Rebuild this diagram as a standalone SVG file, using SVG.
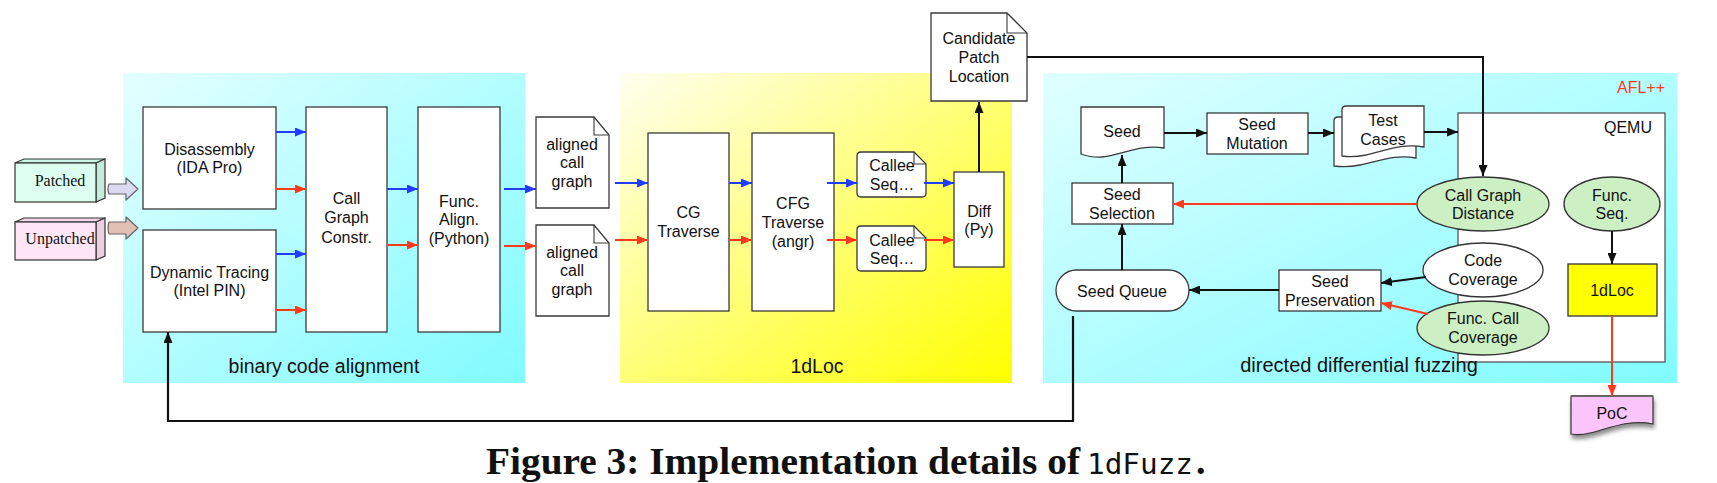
<svg xmlns="http://www.w3.org/2000/svg" width="1717" height="483" viewBox="0 0 1717 483">
<style>
.t{font-family:"Liberation Sans",Arial,sans-serif;font-size:16px;fill:#111;text-anchor:middle}
.lbl{font-size:19.5px}
.box{fill:#fff;stroke:#3a3a3a;stroke-width:1.3}
.ell{fill:#ccf0c4;stroke:#333;stroke-width:1.3}
.blue{stroke:#1f3cff;stroke-width:2;fill:none;marker-end:url(#ab)}
.red{stroke:#ff3a1c;stroke-width:2;fill:none;marker-end:url(#ar)}
.blk{stroke:#111;stroke-width:2;fill:none;marker-end:url(#ak)}
.serif{font-family:"Liberation Serif","Times New Roman",serif;font-size:16px;fill:#111;text-anchor:middle}
</style>
<defs>
<linearGradient id="gcyan1" x1="0" y1="0" x2="1" y2="1"><stop offset="0" stop-color="#e4ffff"/><stop offset="1" stop-color="#80fbff"/></linearGradient>
<linearGradient id="gcyan2" x1="0" y1="0" x2="1" y2="1"><stop offset="0" stop-color="#e0ffff"/><stop offset="1" stop-color="#80fbff"/></linearGradient>
<linearGradient id="gyel" x1="0" y1="0" x2="1" y2="1"><stop offset="0" stop-color="#fffff0"/><stop offset="1" stop-color="#ffff00"/></linearGradient>
<marker id="ab" markerUnits="userSpaceOnUse" markerWidth="11" markerHeight="9" refX="11" refY="4.5" orient="auto"><path d="M0,0 L11,4.5 L0,9 Z" fill="#1f3cff"/></marker>
<marker id="ar" markerUnits="userSpaceOnUse" markerWidth="11" markerHeight="9" refX="11" refY="4.5" orient="auto"><path d="M0,0 L11,4.5 L0,9 Z" fill="#ff3a1c"/></marker>
<marker id="ak" markerUnits="userSpaceOnUse" markerWidth="11" markerHeight="9" refX="11" refY="4.5" orient="auto"><path d="M0,0 L11,4.5 L0,9 Z" fill="#111"/></marker>
<filter id="sh" x="-20%" y="-20%" width="140%" height="160%"><feDropShadow dx="1" dy="4" stdDeviation="2" flood-color="#000" flood-opacity="0.45"/></filter>
</defs>

<!-- backgrounds -->
<g id="bg-bca">
<rect x="123" y="73" width="402" height="310" fill="url(#gcyan1)"/>
<text class="t lbl" x="324" y="373">binary code alignment</text>
</g>
<g id="bg-1dloc">
<rect x="620" y="73" width="392" height="310" fill="url(#gyel)"/>
<text class="t lbl" x="817" y="373">1dLoc</text>
</g>
<g id="bg-ddf">
<rect x="1043" y="73" width="634" height="310" fill="url(#gcyan2)"/>
<text class="t" x="1665" y="93" style="text-anchor:end;fill:#ff3a1c">AFL++</text>
</g>
<g id="qemu">
<rect x="1458" y="113" width="207" height="249" fill="#fff" stroke="#555" stroke-width="1.3"/>
<text class="t" x="1652" y="133" style="text-anchor:end">QEMU</text>
</g>

<!-- inputs -->
<g id="patched">
<polygon points="15,163 24,159 105,159 96,163" fill="#cdf5e6" stroke="#333" stroke-width="1.2"/>
<polygon points="96,163 105,159 105,198 96,202" fill="#c4ecdc" stroke="#333" stroke-width="1.2"/>
<rect x="15" y="163" width="81" height="39" fill="#dcfff0" stroke="#333" stroke-width="1.2"/>
<text class="serif" x="60" y="186">Patched</text>
</g>
<g id="unpatched">
<polygon points="15,222 24,218 105,218 96,222" fill="#f5d8ea" stroke="#333" stroke-width="1.2"/>
<polygon points="96,222 105,218 105,256 96,260" fill="#ecd0e2" stroke="#333" stroke-width="1.2"/>
<rect x="15" y="222" width="81" height="38" fill="#ffe6f6" stroke="#333" stroke-width="1.2"/>
<text class="serif" x="60" y="244">Unpatched</text>
</g>

<!-- binary code alignment nodes -->
<g id="disasm">
<rect class="box" x="143" y="107" width="133" height="102"/>
<text class="t" x="209.5" y="155">Disassembly</text>
<text class="t" x="209.5" y="173">(IDA Pro)</text>
</g>
<g id="dyntrace">
<rect class="box" x="143" y="230" width="133" height="102"/>
<text class="t" x="209.5" y="278">Dynamic Tracing</text>
<text class="t" x="209.5" y="296">(Intel PIN)</text>
</g>
<g id="cgc">
<rect class="box" x="306" y="107" width="81" height="225"/>
<text class="t" x="346.5" y="204">Call</text>
<text class="t" x="346.5" y="223">Graph</text>
<text class="t" x="346.5" y="243">Constr.</text>
</g>
<g id="funcalign">
<rect class="box" x="418" y="107" width="82" height="225"/>
<text class="t" x="459" y="207">Func.</text>
<text class="t" x="459" y="225">Align.</text>
<text class="t" x="459" y="244">(Python)</text>
</g>
<g id="acg1">
<path class="box" d="M536,117 H594 L609,135 V208 H536 Z"/>
<path d="M594,117 V135 H609" fill="none" stroke="#3a3a3a" stroke-width="1.1"/>
<text class="t" x="572" y="150">aligned</text>
<text class="t" x="572" y="168">call</text>
<text class="t" x="572" y="187">graph</text>
</g>
<g id="acg2">
<path class="box" d="M536,225 H594 L609,243 V316 H536 Z"/>
<path d="M594,225 V243 H609" fill="none" stroke="#3a3a3a" stroke-width="1.1"/>
<text class="t" x="572" y="258">aligned</text>
<text class="t" x="572" y="276">call</text>
<text class="t" x="572" y="295">graph</text>
</g>

<!-- 1dLoc nodes -->
<g id="cgtrav">
<rect class="box" x="648" y="133" width="81" height="178"/>
<text class="t" x="688.5" y="218">CG</text>
<text class="t" x="688.5" y="237">Traverse</text>
</g>
<g id="cfgtrav">
<rect class="box" x="752" y="133" width="82" height="178"/>
<text class="t" x="793" y="209">CFG</text>
<text class="t" x="793" y="228">Traverse</text>
<text class="t" x="793" y="247">(angr)</text>
</g>
<g id="callee1">
<path class="box" d="M861,152 H914 L926,164 V193 Q926,197 922,197 H861 Q857,197 857,193 V156 Q857,152 861,152 Z"/>
<path d="M914,152 V164 H926" fill="none" stroke="#3a3a3a" stroke-width="1.1"/>
<text class="t" x="892" y="171">Callee</text>
<text class="t" x="892" y="190">Seq…</text>
</g>
<g id="callee2">
<path class="box" d="M861,226 H914 L926,238 V267 Q926,271 922,271 H861 Q857,271 857,267 V230 Q857,226 861,226 Z"/>
<path d="M914,226 V238 H926" fill="none" stroke="#3a3a3a" stroke-width="1.1"/>
<text class="t" x="892" y="246">Callee</text>
<text class="t" x="892" y="264">Seq…</text>
</g>
<g id="diff">
<rect class="box" x="954" y="172" width="50" height="95"/>
<text class="t" x="979" y="217">Diff</text>
<text class="t" x="979" y="235">(Py)</text>
</g>
<g id="cpl">
<path class="box" d="M931,13 H1007 L1027,33 V101 H931 Z"/>
<path d="M1007,13 V33 H1027" fill="none" stroke="#3a3a3a" stroke-width="1.1"/>
<text class="t" x="979" y="44">Candidate</text>
<text class="t" x="979" y="63">Patch</text>
<text class="t" x="979" y="82">Location</text>
</g>

<!-- fuzzing nodes -->
<g id="seed">
<path class="box" d="M1081,107 H1164 V148 C1140,144 1125,154 1102,157 C1093,158 1087,156 1081,154 Z"/>
<text class="t" x="1122" y="137">Seed</text>
</g>
<g id="mutation">
<rect class="box" x="1207" y="113" width="101" height="41"/>
<text class="t" x="1257" y="130">Seed</text>
<text class="t" x="1257" y="149">Mutation</text>
</g>
<g id="testcases">
<path class="box" d="M1338,117 H1416 V158 C1395,154 1380,161 1360,165 C1350,167 1342,167 1334,166 V121 Q1334,117 1338,117 Z"/>
<path class="box" d="M1346,106 H1424 V147 C1402,143 1387,150 1366,155 C1356,157 1349,157 1342,156 V110 Q1342,106 1346,106 Z"/>
<text class="t" x="1383" y="126">Test</text>
<text class="t" x="1383" y="145">Cases</text>
</g>
<g id="selection">
<rect class="box" x="1072" y="183" width="101" height="41"/>
<text class="t" x="1122" y="200">Seed</text>
<text class="t" x="1122" y="219">Selection</text>
</g>
<g id="queue">
<rect class="box" x="1056" y="270" width="133" height="41" rx="20.5" ry="20.5"/>
<text class="t" x="1122" y="297">Seed Queue</text>
</g>
<g id="preservation">
<rect class="box" x="1279" y="270" width="102" height="41"/>
<text class="t" x="1330" y="287">Seed</text>
<text class="t" x="1330" y="306">Preservation</text>
</g>
<g id="cgdist">
<ellipse class="ell" cx="1483" cy="204" rx="66" ry="27"/>
<text class="t" x="1483" y="201">Call Graph</text>
<text class="t" x="1483" y="219">Distance</text>
</g>
<g id="funcseq">
<ellipse class="ell" cx="1612" cy="204" rx="48" ry="27"/>
<text class="t" x="1612" y="201">Func.</text>
<text class="t" x="1612" y="219">Seq.</text>
</g>
<g id="codecov">
<ellipse cx="1483" cy="270" rx="60" ry="27" fill="#fff" stroke="#333" stroke-width="1.3"/>
<text class="t" x="1483" y="266">Code</text>
<text class="t" x="1483" y="285">Coverage</text>
</g>
<g id="funccallcov">
<ellipse class="ell" cx="1483" cy="328" rx="66" ry="27"/>
<text class="t" x="1483" y="324">Func. Call</text>
<text class="t" x="1483" y="343">Coverage</text>
</g>
<g id="onedloc">
<rect x="1568" y="264" width="89" height="52" fill="#ffff00" stroke="#333" stroke-width="1.3"/>
<text class="t" x="1612" y="296">1dLoc</text>
</g>
<g id="ddf-label">
<text class="t" x="1359" y="372" style="font-size:20px">directed differential fuzzing</text>
</g>
<g id="poc">
<path d="M1571,396 H1653 V424 C1630,419 1610,428 1590,433 C1582,435 1576,435 1571,434 Z" fill="#fbc4fb" stroke="#333" stroke-width="1.2" filter="url(#sh)"/>
<path d="M1571,396 H1653" stroke="#666" stroke-width="2"/>
<text class="t" x="1612" y="419">PoC</text>
</g>

<!-- connectors -->
<g id="connectors">
<path d="M109,184 H126 V178 L138,189 L126,200 V194 H109 Q107,189 109,184 Z" fill="#dcd9f3" stroke="#666" stroke-width="1.2" stroke-linejoin="round"/>
<path d="M109,222 H126 V217 L138,228 L126,239 V234 H109 Q107,228 109,222 Z" fill="#e3c0b4" stroke="#666" stroke-width="1.2" stroke-linejoin="round"/>
<line class="blue" x1="276" y1="132" x2="306" y2="132"/>
<line class="red" x1="276" y1="189" x2="306" y2="189"/>
<line class="blue" x1="276" y1="254" x2="306" y2="254"/>
<line class="red" x1="276" y1="310" x2="306" y2="310"/>
<line class="blue" x1="387" y1="189" x2="418" y2="189"/>
<line class="red" x1="387" y1="245" x2="418" y2="245"/>
<line class="blue" x1="504" y1="189" x2="536" y2="189"/>
<line class="red" x1="504" y1="246" x2="536" y2="246"/>
<line class="blue" x1="615" y1="183" x2="648" y2="183"/>
<line class="red" x1="615" y1="240" x2="648" y2="240"/>
<line class="blue" x1="729" y1="183" x2="752" y2="183"/>
<line class="red" x1="729" y1="240" x2="752" y2="240"/>
<line class="blue" x1="827" y1="183" x2="857" y2="183"/>
<line class="red" x1="827" y1="240" x2="857" y2="240"/>
<line class="blue" x1="924" y1="183" x2="954" y2="183"/>
<line class="red" x1="924" y1="240" x2="954" y2="240"/>
<line class="blk" x1="979" y1="172" x2="979" y2="102"/>
<polyline class="blk" points="1027,57 1483,57 1483,176"/>
<line class="blk" x1="1164" y1="133" x2="1207" y2="133"/>
<line class="blk" x1="1308" y1="133" x2="1334" y2="133"/>
<line class="blk" x1="1424" y1="132" x2="1458" y2="132"/>
<line class="blk" x1="1122" y1="183" x2="1122" y2="155"/>
<line class="blk" x1="1122" y1="270" x2="1122" y2="224"/>
<line class="blk" x1="1279" y1="290" x2="1189" y2="290"/>
<line class="red" x1="1417" y1="204" x2="1173" y2="204"/>
<line class="blk" x1="1426" y1="277" x2="1381" y2="283"/>
<line class="red" x1="1428" y1="314" x2="1381" y2="303"/>
<line class="blk" x1="1612" y1="231" x2="1612" y2="264"/>
<line class="red" x1="1612" y1="316" x2="1612" y2="396"/>
<polyline class="blk" points="1073,316 1073,421 168,421 168,332" style="stroke-width:2.2"/>
</g>

<!-- caption -->
<g id="caption">
<text x="486" y="474" font-family="Liberation Serif, Times New Roman, serif" font-weight="bold" font-size="38" fill="#111" textLength="594" lengthAdjust="spacingAndGlyphs">Figure 3: Implementation details of</text>
<text x="1087" y="474" font-family="DejaVu Sans Mono, Liberation Mono, monospace" font-size="28" fill="#111" textLength="106" lengthAdjust="spacingAndGlyphs">1dFuzz</text>
<text x="1196" y="474" font-family="Liberation Serif, Times New Roman, serif" font-weight="bold" font-size="38" fill="#111">.</text>
</g>
</svg>
